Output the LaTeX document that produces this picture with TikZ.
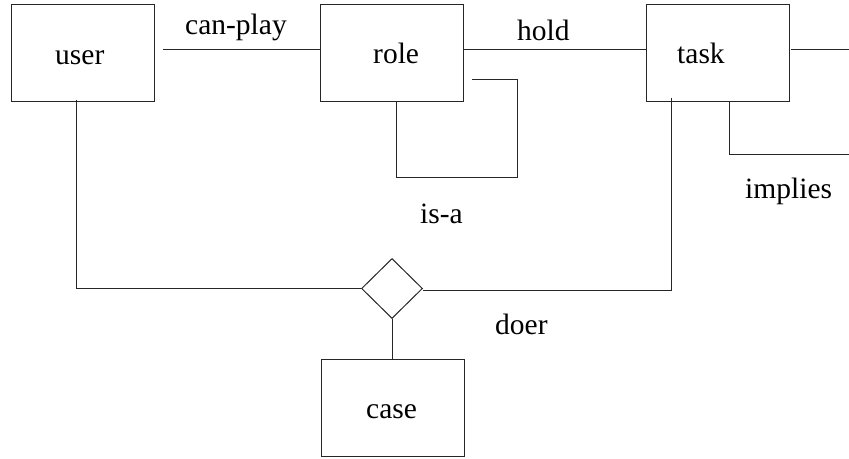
\documentclass[tikz,border=0pt]{standalone}
\usepackage{fontspec}
\setmainfont{Liberation Serif}
\usetikzlibrary{shapes.geometric}
\begin{document}
\begin{tikzpicture}[x=1pt,y=-1pt,
  every node/.style={font=\fontsize{29.5}{34}\selectfont},
  box/.style={draw=black!85,line width=1pt,minimum width=143pt,minimum height=97pt,inner sep=0pt},
  rel/.style={draw=black!85,line width=1pt,diamond,minimum width=61pt,minimum height=60pt,inner sep=0pt},
  lbl/.style={anchor=base west,inner sep=0pt,text=black},
  conn/.style={draw=black!85,line width=1pt}]
\useasboundingbox (0,0) rectangle (849,458);
% boxes
\node[box] (user) at (82.5,52.5) {};
\node[box] (role) at (392,52.5) {};
\node[box] (task) at (717.5,52.5) {};
\node[box] (case) at (392.5,407.5) {};
\node[rel] (rel) at (392,288.5) {};
% box texts
\node[lbl] (tuser) at (55,64) {user};
\node[lbl] (trole) at (373,63) {role};
\node[lbl] (ttask) at (677,63) {task};
\node[lbl] (tcase) at (366,418) {case};
% connector labels
\node[lbl] (lcan) at (185,34) {can-play};
\node[lbl] (lhold) at (517,40) {hold};
\node[lbl] (lisa) at (420,223) {is-a};
\node[lbl] (ldoer) at (495,334) {doer};
\node[lbl] (limp) at (745,198) {implies};
% free ends
\coordinate (e1) at (849,49);
\coordinate (e2) at (849,154);
% connectors
\draw[conn] ([xshift=8pt,yshift=3.5pt]user.east) -- ([yshift=3.5pt]role.west);
\draw[conn] ([yshift=3.5pt]role.east) -- ([yshift=3.5pt]task.west);
\draw[conn] ([xshift=1pt,yshift=3.5pt]task.east) -- (e1);
\draw[conn] ([xshift=8pt,yshift=-26.5pt]role.east) -- ++(45,0) |- ([xshift=4pt,yshift=-76pt]role.south) -- ([xshift=4pt]role.south);
\draw[conn] ([xshift=11.5pt]task.south) |- (e2);
\draw[conn] ([xshift=-46.5pt,yshift=4pt]task.south) |- ([yshift=-1.5pt]rel.east);
\draw[conn] ([xshift=-6.5pt,yshift=2pt]user.south) |- ([yshift=0.5pt]rel.west);
\draw[conn] (rel.south) -- (rel.south |- case.north);
\end{tikzpicture}
\end{document}
